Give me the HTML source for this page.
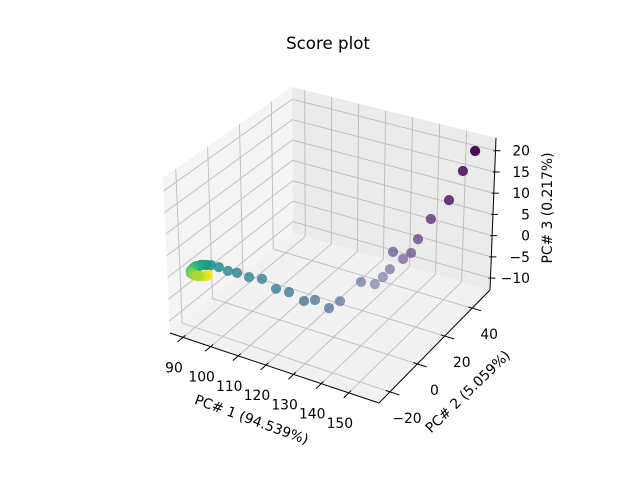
<!DOCTYPE html>
<html><head><meta charset="utf-8"><style>
body{margin:0;background:#fff}
svg{display:block;font-family:"DejaVu Sans","Liberation Sans",sans-serif}
</style></head><body>
<svg id="chart" width="640" height="480" viewBox="0 0 640 480" xmlns="http://www.w3.org/2000/svg">
<rect width="640" height="480" fill="#fff"/>
<text x="328" y="49" font-size="16.67" text-anchor="middle">Score plot</text>
<g id="panes"></g><g id="grid"></g><g id="axes"></g><g id="pts"></g>
<text transform="translate(250,424) rotate(20)" font-size="13.89" text-anchor="middle">PC# 1 (94.539%)</text>
<text transform="translate(471,395) rotate(-44)" font-size="13.89" text-anchor="middle">PC# 2 (5.059%)</text>
<text transform="translate(552,208) rotate(-90)" font-size="13.89" text-anchor="middle">PC# 3 (0.217%)</text>
</svg>
<script>
const pcX = [156,152.3,150.6,145,142.3,140.7,137.8,135.5,134.7,132.6,131.2,128,125.2,124.1,119.3,116.6,111.3,106.9,101.6,97.6,94.4,91.4,89.1,86.4,
  89.9,89.1,88.3,88.1,87.5,87.2,87.2,87.2,87.2,87.2,87.5,87.8,88.3,88.6,89.1,89.7,90.2,90.8,91,91.6,92.1,92.7,92.9];
const pcY = [49.7,48.4,41.7,39.9,36,34.2,34.3,31.6,31,30.2,27.2,23.6,13.9,8.1,7.7,5.2,5.1,4.6,5.2,3.9,1.7,1.2,-0.7,-1,
  -11.2,-11.7,-12.2,-13.2,-13.5,-14.4,-15.2,-15.9,-16.6,-17.4,-17.9,-18.5,-18.8,-18.7,-19.1,-18.7,-19.1,-18.7,-18.5,-18.2,-17.8,-17.5,-16.6];
const pcZ = [20,15,10,5,1,-2,-4,-2,-6,-8,-9,-8,-10,-10,-9,-9,-8,-8,-7,-7,-6,-6,-5,-5,
  -1,-1,-1,-1,-1,-1,-1,-1,-1,-1,-1,-1,-1,-1,-1,-1,-1,-1,-1,-1,-1,-1,-1];
const xTicks = [90,100,110,120,130,140,150];
const yTicks = [-20,0,20,40];
const zTicks = [-10,-5,0,5,10,15,20];

const NS="http://www.w3.org/2000/svg";
const XR=[85.3,160.9], YR=[-28,53], ZR=[-12.8,23];
const C={"000":[170,333],"100":[379,403],"110":[490,290],"010":[293,233],
 "001":[163,178],"101":[376,250],"111":[496,138],"011":[292,87]};
function tri(u,v,w){
  let sx=0,sy=0;
  for(const a of [0,1])for(const b of [0,1])for(const c of [0,1]){
    const wt=(a?u:1-u)*(b?v:1-v)*(c?w:1-w);const p=C[""+a+b+c];sx+=wt*p[0];sy+=wt*p[1];}
  return [sx,sy];
}
function fx(x){return (x-XR[0])/(XR[1]-XR[0]);}
function fy(y){return (y-YR[0])/(YR[1]-YR[0]);}
function fz(z){return (z-ZR[0])/(ZR[1]-ZR[0]);}
function proj(x,y,z){return [173+(x-86)*2.8+(y+28)*1.365, 336+(x-86)*0.9-(y+28)*1.365-(z+13)*4.3];}
function mk(tag,attrs,parent){const e=document.createElementNS(NS,tag);for(const k in attrs)e.setAttribute(k,attrs[k]);document.getElementById(parent).appendChild(e);return e;}
function poly(keys,fill,name){
  const e=mk("polygon",{points:keys.map(k=>C[k].join(",")).join(" "),fill:fill},"panes");
  
  
}
poly(["000","010","011","001"],"#f4f4f4","left-pane");
poly(["010","110","111","011"],"#ebebeb","back-pane");
poly(["000","100","110","010"],"#f1f1f1","floor-pane");
function line(p,q,stroke,w,parent,name){
  const e=mk("line",{x1:p[0],y1:p[1],x2:q[0],y2:q[1],stroke:stroke,"stroke-width":w},parent);
  
  
}
const G="#bdbdbd";
xTicks.forEach(t=>{const u=fx(t);
  line(tri(u,0,0),tri(u,1,0),G,0.9,"grid","grid-line-x");
  line(tri(u,1,0),tri(u,1,1),G,0.9,"grid","grid-line-x");});
yTicks.forEach(t=>{const v=fy(t);
  line(tri(0,v,0),tri(1,v,0),G,0.9,"grid","grid-line-y");
  line(tri(0,v,0),tri(0,v,1),G,0.9,"grid","grid-line-y");});
zTicks.forEach(t=>{const w=fz(t);
  line(tri(0,0,w),tri(0,1,w),G,0.9,"grid","grid-line-z");
  line(tri(0,1,w),tri(1,1,w),G,0.9,"grid","grid-line-z");});
line(tri(0,0,0),tri(1,0,0),"#000",1,"axes","x-axis-line");
line(tri(1,0,0),tri(1,1,0),"#000",1,"axes","y-axis-line");
line(tri(1,1,0),tri(1,1,1),"#000",1,"axes","z-axis-line");
function lbl(x,y,txt,anchor,name){
  const e=mk("text",{x:x,y:y,"font-size":13.89,"text-anchor":anchor},"axes");e.textContent=txt;
  
  
}
function fmt(t){return t<0?"\u2212"+(-t):""+t;}
xTicks.forEach(t=>{const u=fx(t);const p=tri(u,-0.045,0),q=tri(u,0.02,0);
  line(p,q,"#000",1,"axes","x-tick");
  const b=tri(u,0,0);lbl(b[0]-9,b[1]+35,fmt(t),"middle","x-tick-label");});
yTicks.forEach(t=>{const v=fy(t);const p=tri(1.045,v,0),q=tri(0.98,v,0);
  line(p,q,"#000",1,"axes","y-tick");
  const b=tri(1,v,0);lbl(b[0]+17,b[1]+31,fmt(t),"middle","y-tick-label");});
zTicks.forEach(t=>{const w=fz(t);const b=tri(1,1,w);
  line([b[0]-2,b[1]],[b[0]+5,b[1]],"#000",1,"axes","z-tick");
  lbl(530,b[1]+5,fmt(t),"end","z-tick-label");});
const V=["#440154","#482475","#414487","#355f8d","#2a788e","#21918c","#22a884","#44bf70","#7ad151","#bddf26","#fde725"];
function hex(h){return [1,3,5].map(i=>parseInt(h.substr(i,2),16));}
function vir(t){const s=t*10,i=Math.min(9,Math.floor(s)),f=s-i;const a=hex(V[i]),b=hex(V[i+1]);
  return "rgb("+a.map((c,k)=>Math.round(c+(b[k]-c)*f)).join(",")+")";}
const n=pcX.length;
const depth=pcX.map((x,i)=>pcZ[i]*2.5-pcY[i]);
const dmin=Math.min(...depth),dmax=Math.max(...depth);
const order=[...Array(n).keys()].sort((a,b)=>depth[a]-depth[b]);
order.forEach(i=>{
  const p=proj(pcX[i],pcY[i],pcZ[i]);const col=vir(i/(n-1));
  const al=0.35+0.65*(depth[i]-dmin)/(dmax-dmin);
  const c=mk("circle",{cx:p[0].toFixed(1),cy:p[1].toFixed(1),r:4.7,fill:col,stroke:col,"stroke-width":0.8,opacity:Math.min(1,al+0.12).toFixed(2)},"pts");
  
  
});
</script>
</body></html>
